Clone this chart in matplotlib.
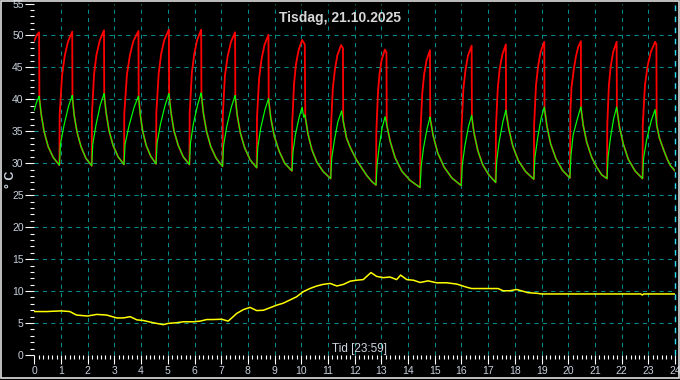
import matplotlib
matplotlib.use("Agg")
import matplotlib.pyplot as plt
from matplotlib.patches import Rectangle

plt.rcParams['font.family'] = ['Liberation Sans', 'DejaVu Sans']

# ---------------- data (hours, deg C) ----------------
title = "Tisdag, 21.10.2025"
xlabel = "Tid [23:59]"
ylabel = "° C"
x_ticks = list(range(0, 25))
y_ticks = list(range(0, 56, 5))

# red (flow) heating phases: (hour, value)
red_rise = [
    [(0.00, 49.2), (0.10, 50.1), (0.18, 50.5)],
    [(0.95, 37.6), (1.04, 43.8), (1.14, 46.8), (1.26, 49.0), (1.42, 50.6)],
    [(2.16, 37.8), (2.24, 44.0), (2.33, 47.0), (2.45, 49.2), (2.61, 50.8)],
    [(3.37, 37.7), (3.47, 43.9), (3.58, 46.9), (3.71, 49.1), (3.90, 50.7)],
    [(4.57, 37.9), (4.66, 44.1), (4.75, 47.1), (4.87, 49.3), (5.04, 50.9)],
    [(5.82, 37.9), (5.90, 44.1), (5.99, 47.1), (6.10, 49.3), (6.25, 50.9)],
    [(7.06, 37.5), (7.14, 43.7), (7.24, 46.7), (7.36, 48.9), (7.52, 50.5)],
    [(8.34, 37.1), (8.42, 43.3), (8.51, 46.3), (8.62, 48.5), (8.77, 50.1)],
    [(9.66, 36.3), (9.73, 42.5), (9.80, 45.5), (9.90, 47.7), (10.03, 49.3), (10.13, 48.6)],
    [(11.11, 35.5), (11.18, 41.7), (11.26, 44.7), (11.35, 46.9), (11.49, 48.5), (11.56, 48.0)],
    [(12.81, 34.8), (12.87, 41.0), (12.93, 44.0), (13.01, 46.2), (13.13, 47.8), (13.19, 47.3)],
    [(14.46, 34.7), (14.53, 40.9), (14.60, 43.9), (14.69, 46.1), (14.82, 47.7)],
    [(16.00, 35.4), (16.07, 41.6), (16.15, 44.6), (16.24, 46.8), (16.38, 48.4)],
    [(17.29, 35.6), (17.36, 41.8), (17.43, 44.8), (17.53, 47.0), (17.66, 48.6)],
    [(18.72, 36.0), (18.79, 42.2), (18.87, 45.2), (18.96, 47.4), (19.10, 49.0)],
    [(20.08, 38.3), (20.12, 41.9), (20.16, 43.2), (20.21, 44.8), (20.28, 46.6), (20.37, 48.2), (20.47, 49.1)],
    [(21.46, 36.0), (21.52, 42.2), (21.59, 45.2), (21.68, 47.4), (21.81, 49.0)],
    [(22.79, 36.0), (22.87, 42.2), (22.97, 45.2), (23.09, 47.4), (23.25, 49.0), (23.30, 48.6)],
]

# green (return) heating phases
green_rise = [
    [(0.00, 38.3), (0.08, 39.5), (0.18, 40.5)],
    [(0.98, 33.0), (1.11, 35.9), (1.28, 38.9), (1.42, 40.6)],
    [(2.19, 33.0), (2.31, 36.0), (2.47, 39.1), (2.61, 40.9)],
    [(3.40, 33.0), (3.55, 35.9), (3.74, 38.8), (3.90, 40.5)],
    [(4.60, 33.2), (4.73, 36.2), (4.90, 39.1), (5.04, 40.9)],
    [(5.85, 33.2), (5.96, 36.2), (6.12, 39.2), (6.25, 41.0)],
    [(7.09, 32.8), (7.21, 35.8), (7.38, 38.8), (7.52, 40.6)],
    [(8.37, 32.5), (8.48, 35.5), (8.64, 38.4), (8.77, 40.1)],
    [(9.69, 31.8), (9.78, 34.5), (9.92, 37.2), (10.03, 38.8), (10.09, 37.2), (10.13, 37.6)],
    [(11.14, 30.8), (11.24, 33.6), (11.37, 36.5), (11.51, 38.2)],
    [(12.84, 29.8), (12.92, 32.7), (13.03, 35.6), (13.14, 37.3)],
    [(14.49, 29.5), (14.58, 32.5), (14.71, 35.4), (14.82, 37.2)],
    [(16.03, 29.8), (16.13, 32.8), (16.26, 35.7), (16.38, 37.5)],
    [(17.32, 30.4), (17.41, 33.4), (17.55, 36.5), (17.66, 38.3)],
    [(18.75, 30.9), (18.85, 33.9), (18.98, 37.0), (19.10, 38.8)],
    [(20.10, 31.2), (20.18, 34.4), (20.31, 36.5), (20.41, 38.0), (20.47, 38.8)],
    [(21.49, 31.0), (21.58, 34.0), (21.70, 37.0), (21.81, 38.8)],
    [(22.82, 30.8), (22.94, 33.8), (23.11, 36.7), (23.25, 38.4)],
]

# cooling phases, shared by red and green (both sensors read the same)
decay = [
    [(0.19, 40.2), (0.26, 37.6), (0.37, 34.9), (0.52, 32.6), (0.71, 30.9), (0.94, 29.7)],
    [(1.43, 40.3), (1.49, 37.6), (1.60, 34.9), (1.75, 32.6), (1.93, 30.8), (2.15, 29.6)],
    [(2.62, 40.6), (2.69, 37.9), (2.80, 35.1), (2.95, 32.8), (3.14, 31.0), (3.36, 29.8)],
    [(3.91, 40.2), (3.97, 37.6), (4.06, 35.0), (4.19, 32.8), (4.36, 31.1), (4.56, 29.9)],
    [(5.05, 40.6), (5.12, 37.9), (5.23, 35.1), (5.39, 32.8), (5.58, 31.0), (5.81, 29.8)],
    [(6.26, 40.7), (6.33, 37.9), (6.45, 35.0), (6.61, 32.6), (6.81, 30.8), (7.05, 29.5)],
    [(7.53, 40.3), (7.60, 37.5), (7.72, 34.7), (7.88, 32.4), (8.09, 30.5), (8.33, 29.3)],
    [(8.78, 39.8), (8.86, 37.0), (8.99, 34.2), (9.17, 31.9), (9.38, 30.0), (9.65, 28.8)],
    [(10.15, 37.2), (10.25, 34.6), (10.39, 32.2), (10.58, 30.2), (10.82, 28.7), (11.10, 27.6)],
    [(11.57, 36.6), (11.69, 34.0), (11.83, 32.5), (12.07, 30.5), (12.45, 28.1), (12.65, 27.1), (12.80, 26.6)],
    [(13.20, 36.0), (13.33, 33.4), (13.51, 30.9), (13.76, 28.8), (14.08, 27.3), (14.45, 26.2)],
    [(14.83, 36.9), (14.94, 34.3), (15.11, 31.6), (15.35, 29.4), (15.64, 27.7), (15.99, 26.5)],
    [(16.39, 37.2), (16.47, 34.7), (16.61, 32.0), (16.79, 29.8), (17.02, 28.2), (17.28, 27.0)],
    [(17.67, 38.0), (17.77, 35.4), (17.92, 32.7), (18.13, 30.4), (18.40, 28.7), (18.71, 27.5)],
    [(19.11, 38.5), (19.20, 35.8), (19.34, 33.0), (19.54, 30.7), (19.78, 28.9), (20.06, 27.7)],
    [(20.48, 38.5), (20.56, 35.9), (20.69, 33.3), (20.87, 31.0), (21.06, 29.4), (21.25, 28.2), (21.45, 27.6)],
    [(21.82, 38.5), (21.91, 35.8), (22.06, 33.0), (22.25, 30.6), (22.50, 28.8), (22.78, 27.6)],
    [(23.31, 36.0), (23.41, 34.0), (23.56, 32.2), (23.71, 30.6), (23.83, 29.6), (24.00, 28.8)],
]

# yellow (outdoor)
outdoor_t = [0.00, 0.46, 1.00, 1.33, 1.58, 1.99, 2.34, 2.71, 3.09, 3.34, 3.59, 3.84, 4.08, 4.45,
             4.83, 5.02, 5.33, 5.58, 5.96, 6.21, 6.46, 6.70, 7.02, 7.26, 7.45, 7.58, 7.83, 8.08,
             8.33, 8.58, 8.83, 9.08, 9.32, 9.57, 9.82, 10.07, 10.32, 10.58, 10.82, 11.08, 11.33,
             11.58, 11.83, 12.07, 12.32, 12.45, 12.61, 12.82, 13.07, 13.32, 13.57, 13.72, 13.95,
             14.20, 14.45, 14.75, 15.07, 15.44, 15.82, 16.20, 16.38, 16.82, 17.37, 17.56, 17.81,
             18.06, 18.24, 18.49, 18.83, 19.00, 22.71, 22.77, 22.83, 24.00]
outdoor_v = [6.8, 6.8, 6.9, 6.8, 6.25, 6.1, 6.35, 6.25, 5.8, 5.8, 6.0, 5.5, 5.4, 5.05,
             4.75, 4.95, 5.05, 5.2, 5.2, 5.3, 5.55, 5.55, 5.6, 5.3, 6.0, 6.5, 7.1, 7.45,
             6.95, 7.0, 7.4, 7.8, 8.1, 8.6, 9.1, 9.9, 10.4, 10.8, 11.05, 11.2, 10.8,
             11.05, 11.55, 11.7, 11.8, 12.3, 12.9, 12.3, 12.1, 12.2, 11.8, 12.5, 11.8,
             11.7, 11.35, 11.6, 11.3, 11.3, 11.1, 10.6, 10.4, 10.4, 10.4, 10.05, 10.05,
             10.25, 10.05, 9.75, 9.65, 9.55, 9.55, 9.4, 9.55, 9.55]

# ---------------- assemble series ----------------
red_t, red_v, green_t, green_v = [], [], [], []
for rr, gr, dc in zip(red_rise, green_rise, decay):
    for t, v in rr + dc:
        red_t.append(t); red_v.append(v)
    for t, v in gr + dc:
        green_t.append(t); green_v.append(v)

# ---------------- figure ----------------
W, H = 680, 380
fig = plt.figure(figsize=(W / 100, H / 100), dpi=100, facecolor='black')
ax = fig.add_axes([34.3 / W, 25 / H, 640.8 / W, 351.5 / H])
ax.set_facecolor('black')
for s in ax.spines.values():
    s.set_visible(False)

ax.set_xlim(0, 24)
ax.set_ylim(0, 55)

grid_c = '#008c8c'
for x in x_ticks[1:-1]:
    ax.axvline(x, color=grid_c, lw=0.75, ls=(0, (4, 4)), zorder=1)
for y in y_ticks[1:-1]:
    ax.axhline(y, color=grid_c, lw=0.75, ls=(0, (4, 4)), zorder=1)
ax.axvline(x_ticks[-1], color='#30dcf0', lw=1.0, ls=(0, (4, 4)), zorder=1, clip_on=False)

ax.plot(outdoor_t, outdoor_v, color='#ffff00', lw=1.1, zorder=3)
ax.plot(red_t, red_v, color='#ff0000', lw=1.3, zorder=3)
ax.plot(green_t, green_v, color='#00ff00', lw=0.85, zorder=4)

ax.set_xticks(x_ticks)
ax.set_yticks(y_ticks)
ax.set_xticks([i / 6 for i in range(0, 24 * 6 + 1)], minor=True)
ax.set_yticks(list(range(0, 56)), minor=True)

lab_c = '#c8d0dc'
ax.tick_params(axis='both', which='major', color='white', width=0.8, length=6.5,
               labelcolor=lab_c, labelsize=7.5, pad=1.2)
ax.tick_params(axis='both', which='minor', color='white', width=0.8, length=3.0)

fig.text(340 / W, 1 - 18 / H, title, color='#d8d8d8', fontsize=10, fontweight='bold',
         ha='center', va='center')
fig.text(359 / W, 1 - 349 / H, xlabel, color='#d0d8e4', fontsize=8.5, ha='center', va='center')
fig.text(10.5 / W, 1 - 179 / H, ylabel, color=lab_c, fontsize=9, fontweight='bold',
         rotation=90, ha='center', va='center')

fig.patches.append(Rectangle((0.5 / W, 1.7 / H), 678 / W, 377.5 / H, transform=fig.transFigure,
                             fill=False, edgecolor='#e0e0e0', lw=1.2))

fig.savefig('out.png', dpi=100, facecolor='black')
